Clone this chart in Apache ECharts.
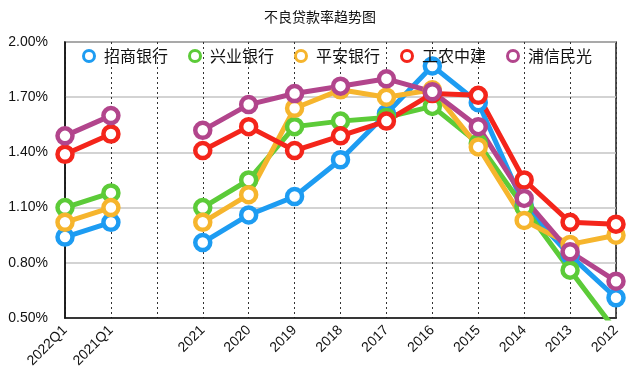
<!DOCTYPE html>
<html><head><meta charset="utf-8">
<script src="https://cdn.jsdelivr.net/npm/echarts@6/dist/echarts.min.js"></script>
<style>html,body{margin:0;padding:0;background:#fff}#c{width:640px;height:378px}</style>
</head><body><div id="c"></div>
<script>
const categories = ['2022Q1','2021Q1','','2021','2020','2019','2018','2017','2016','2015','2014','2013','2012'];
const seriesNames = ['招商银行','兴业银行','平安银行','工农中建','浦信民光'];
const cmb   = [0.94,1.02,null,0.91,1.06,1.16,1.36,1.61,1.87,1.67,1.11,0.84,0.61];
const cib   = [1.10,1.18,null,1.10,1.25,1.54,1.57,1.59,1.65,1.45,1.10,0.76,0.43];
const pab   = [1.02,1.10,null,1.02,1.17,1.64,1.74,1.70,1.74,1.43,1.03,0.90,0.95];
const big4  = [1.39,1.50,null,1.41,1.54,1.41,1.49,1.57,1.72,1.71,1.25,1.02,1.01];
const other = [1.49,1.60,null,1.52,1.66,1.72,1.76,1.80,1.73,1.54,1.15,0.86,0.70];
const yTicks = [0.5,0.8,1.1,1.4,1.7,2.0];
const colors = ['#1d9cf2','#5ccb38','#f6b52d','#f4251b','#b2458c'];
const values = [cmb,cib,pab,big4,other];

const chart = echarts.init(document.getElementById('c'));
chart.setOption({
  backgroundColor:'#fff',
  title:{text:'不良贷款率趋势图',left:'center',top:5,textStyle:{fontSize:14,fontWeight:'normal',color:'#111',fontFamily:'Noto Sans CJK SC'}},
  legend:{top:43,left:77,itemWidth:12,itemHeight:11,itemGap:20,
    textStyle:{fontSize:16,color:'#111',fontFamily:'Noto Sans CJK SC',padding:[0,0,0,4]},
    data:seriesNames.map((n,i)=>({name:n,icon:'circle',itemStyle:{color:'#fff',borderColor:colors[i],borderWidth:3}}))},
  grid:{left:65,right:24,top:42,bottom:60,show:true,borderColor:'#222',borderWidth:1.5},
  xAxis:{type:'category',data:categories,boundaryGap:false,
    axisLine:{lineStyle:{color:'#111',width:1.5}},axisTick:{show:false},
    axisLabel:{rotate:45,fontSize:14,color:'#111',margin:10,interval:0,fontFamily:'Liberation Sans'},
    splitLine:{show:true,lineStyle:{type:[2,3],color:'#333',width:1}}},
  yAxis:{type:'value',min:yTicks[0],max:yTicks[yTicks.length-1],interval:0.3,
    axisLine:{show:true,lineStyle:{color:'#111',width:1.5}},axisTick:{show:false},
    axisLabel:{fontSize:14,color:'#111',margin:17,fontFamily:'Liberation Sans',formatter:v=>v.toFixed(2)+'%'},
    splitLine:{lineStyle:{color:'#c4c4c4',width:1.5}}},
  series:seriesNames.map((n,i)=>({
    name:n,type:'line',data:values[i],color:colors[i],
    symbol:'circle',symbolSize:15,
    itemStyle:{color:'#fff',borderColor:colors[i],borderWidth:4.5},
    lineStyle:{width:5,color:colors[i]},
    emphasis:{disabled:true},animation:false,clip:true
  }))
});
</script></body></html>
